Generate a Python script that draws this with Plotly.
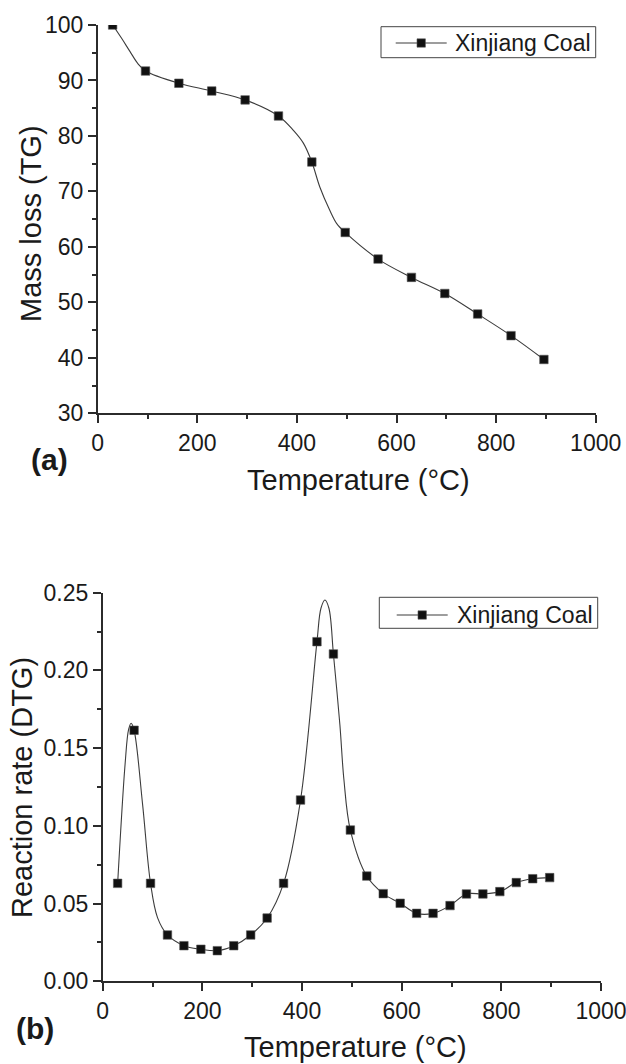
import plotly.graph_objects as go

# ---- TG (mass loss) ----
tg_temp = [30, 96, 163, 229, 296, 363, 430, 497, 563, 630, 697, 763, 830, 896]
tg_mass = [100, 91.7, 89.5, 88.1, 86.5, 83.6, 75.3, 62.6, 57.8, 54.5, 51.6, 47.9, 44.0, 39.7]

# continuous TG trace (recorded curve)
tg_curve_temp = [30, 48, 65, 81, 96, 163, 229, 296, 363, 393, 413, 430, 446, 466, 480, 497,
                 563, 630, 697, 763, 830, 896]
tg_curve_mass = [100, 97.6, 95.2, 93.0, 91.7, 89.5, 88.1, 86.5, 83.6, 81.0, 78.7, 75.3, 70.8,
                 66.6, 64.2, 62.6, 57.8, 54.5, 51.6, 47.9, 44.0, 39.7]

# ---- DTG (reaction rate) ----
dtg_temp = [30, 63, 96, 130, 163, 197, 230, 263, 297, 330, 363, 397, 430, 463, 497, 530, 563,
            597, 630, 663, 697, 730, 763, 797, 830, 863, 897]
dtg_rate = [0.063, 0.1615, 0.063, 0.0298, 0.0229, 0.0206, 0.0197, 0.0229, 0.0298, 0.0407,
            0.063, 0.1166, 0.2185, 0.2106, 0.0973, 0.0677, 0.0564, 0.0502, 0.0437, 0.0437,
            0.0487, 0.0562, 0.0562, 0.0577, 0.0635, 0.066, 0.0667]

# continuous DTG trace (recorded curve, including both peaks)
dtg_curve_temp = [30, 45, 52, 57, 63, 80, 96, 110, 130, 163, 197, 230, 263, 297, 330, 363, 397,
                  430, 438, 446, 454, 463, 476, 484, 497, 530, 563, 597, 630, 663, 697, 730,
                  763, 797, 830, 863, 897]
dtg_curve_rate = [0.063, 0.140, 0.162, 0.166, 0.1615, 0.114, 0.063, 0.041, 0.0298, 0.0229,
                  0.0206, 0.0197, 0.0229, 0.0298, 0.0407, 0.063, 0.1166, 0.2185, 0.240, 0.2453,
                  0.240, 0.2106, 0.165, 0.130, 0.0973, 0.0677, 0.0564, 0.0502, 0.0437, 0.0437,
                  0.0487, 0.0562, 0.0562, 0.0577, 0.0635, 0.066, 0.0667]

SERIES = "Xinjiang Coal"
FONT = "Liberation Sans, Arial, Helvetica, sans-serif"
W, H = 626, 1064
LINE_COLOR = "#3c3c3c"
AXIS_COLOR = "#2b2b2b"
TEXT_COLOR = "#1a1a1a"
MARKER_FILL = "#111111"
MARKER = dict(symbol="square", size=8.5, color=MARKER_FILL, line=dict(width=0.6, color="#555555"))


def px(x):
    return x / W


def py(y):
    return 1 - y / H


fig = go.Figure()

for xa, ya, ct, cv, mt, mv in [
    ("x", "y", tg_curve_temp, tg_curve_mass, tg_temp, tg_mass),
    ("x2", "y2", dtg_curve_temp, dtg_curve_rate, dtg_temp, dtg_rate),
]:
    fig.add_trace(go.Scatter(x=ct, y=cv, mode="lines", xaxis=xa, yaxis=ya,
                             line=dict(color=LINE_COLOR, width=1.1, shape="spline", smoothing=1),
                             showlegend=False, hoverinfo="skip"))
    fig.add_trace(go.Scatter(x=mt, y=mv, mode="markers", xaxis=xa, yaxis=ya,
                             marker=MARKER, showlegend=False, name=SERIES))

axis_common = dict(
    showline=True, linecolor=AXIS_COLOR, linewidth=1.5,
    ticks="outside", ticklen=8, tickwidth=1.5, tickcolor=AXIS_COLOR,
    showgrid=False, zeroline=False, mirror=False, automargin=False,
    ticklabeloverflow="allow",
    tickfont=dict(family=FONT, size=23, color=TEXT_COLOR),
)


def minor(step):
    return dict(dtick=step, ticks="outside", ticklen=4, tickwidth=1.5, tickcolor=AXIS_COLOR)


fig.update_layout(
    width=W, height=H, autosize=False,
    margin=dict(l=0, r=0, t=0, b=0, autoexpand=False),
    paper_bgcolor="white", plot_bgcolor="white",
    showlegend=False,
    xaxis=dict(domain=[px(97.7), px(595.7)], anchor="y", range=[0, 1000], dtick=200,
               minor=minor(100), **axis_common),
    yaxis=dict(domain=[py(413.3), py(25)], anchor="x", range=[30, 100], dtick=10,
               minor=minor(5), **axis_common),
    xaxis2=dict(domain=[px(102.7), px(601)], anchor="y2", range=[0, 1000], dtick=200,
                minor=minor(100), **axis_common),
    yaxis2=dict(domain=[py(981.3), py(592.7)], anchor="x2", range=[0, 0.25], dtick=0.05,
                tickformat=".2f", minor=minor(0.025), **axis_common),
)

# boxed legend for each panel: frame, line sample with square symbol, series name
legend_font = dict(family=FONT, size=23, color=TEXT_COLOR)
for (x0, y0, x1, y1), (lx0, lx1, ly), tx in [
    ((381, 26.7, 595.7, 57.7), (395.7, 446.7, 43), 453.3),
    ((379.3, 597.3, 597.7, 628.3), (396.7, 447.7, 615), 455),
]:
    fig.add_shape(type="rect", xref="paper", yref="paper",
                  x0=px(x0), x1=px(x1), y0=py(y1), y1=py(y0),
                  line=dict(color="#444444", width=1), fillcolor="white", layer="above")
    fig.add_shape(type="line", xref="paper", yref="paper",
                  x0=px(lx0), x1=px(lx1), y0=py(ly), y1=py(ly),
                  line=dict(color=LINE_COLOR, width=1.1), layer="above")
    cx = (lx0 + lx1) / 2
    fig.add_shape(type="rect", xref="paper", yref="paper",
                  x0=px(cx - 4.2), x1=px(cx + 4.2), y0=py(ly + 4.2), y1=py(ly - 4.2),
                  line=dict(color="#555555", width=0.6), fillcolor=MARKER_FILL, layer="above")
    fig.add_annotation(text=SERIES, x=px(tx), y=py(ly), xref="paper", yref="paper",
                       xanchor="left", yanchor="middle", showarrow=False, font=legend_font)

title_font = dict(family=FONT, size=29, color=TEXT_COLOR)
texts = [
    ("Temperature (°C)", 358, 480, 0, title_font),
    ("Temperature (°C)", 355, 1047, 0, title_font),
    ("Mass loss (TG)", 31, 224, -90, title_font),
    ("Reaction rate (DTG)", 22, 788, -90, title_font),
    ("<b>(a)</b>", 49, 459, 0, dict(family=FONT, size=30, color=TEXT_COLOR)),
    ("<b>(b)</b>", 35, 1028, 0, dict(family=FONT, size=30, color=TEXT_COLOR)),
]
for text, x, y, ang, f in texts:
    fig.add_annotation(text=text, x=px(x), y=py(y), xref="paper", yref="paper",
                       xanchor="center", yanchor="middle", showarrow=False,
                       textangle=ang, font=f)

fig.write_html("out.html")
